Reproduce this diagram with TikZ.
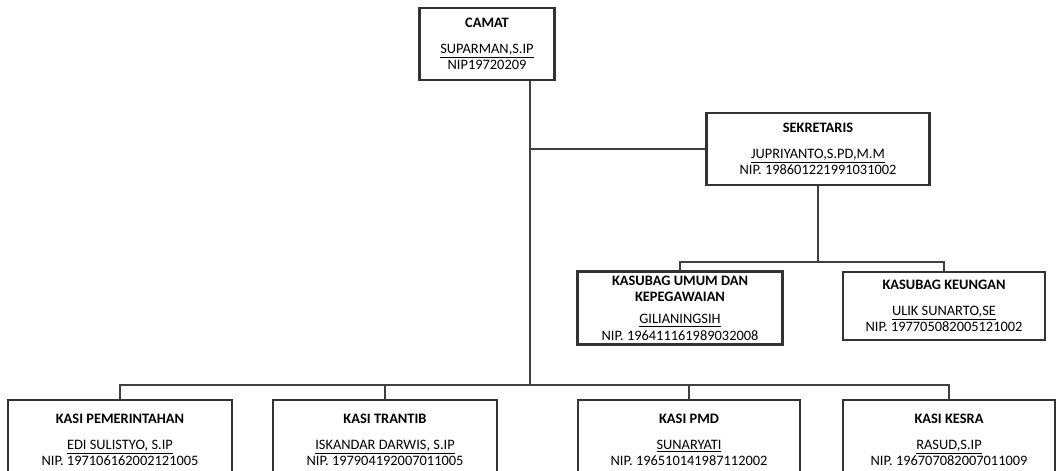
\documentclass[tikz,border=0pt]{standalone}
\usepackage{fontspec}
\setmainfont{Carlito}
\usepackage{tikz}
\usetikzlibrary{positioning}

\begin{document}
\begin{tikzpicture}[
  x=0.02cm, y=-0.02cm,
  font=\fontsize{8.2}{9.4}\selectfont,
  line width=0.8pt,
  box/.style={draw=black!80, line width=1.2pt, align=center,
              inner sep=2pt},
  conn/.style={draw=black!75, line width=0.8pt},
]
  % ── Frame of the page ──
  \useasboundingbox (0,0) rectangle (1060,470);
  \clip (0,0) rectangle (1060,470);
  % ── Top: camat and sekretaris ──
  \node[box, minimum width=2.7cm, minimum height=1.44cm] (camat) at (487,44)
    {\textbf{CAMAT}\\[5pt]\underline{SUPARMAN,S.IP}\\NIP19720209};
  \node[box, minimum width=4.46cm, minimum height=1.44cm] (sekretaris) at (818,149)
    {\textbf{SEKRETARIS}\\[5pt]\underline{JUPRIYANTO,S.PD,M.M}\\NIP.\ 198601221991031002};
  % ── Middle row: kasubag ──
  \node[box, minimum width=4.1cm, minimum height=1.46cm] (umum) at (680,308)
    {\textbf{KASUBAG UMUM DAN}\\\textbf{KEPEGAWAIAN}\\[3pt]\underline{GILIANINGSIH}\\NIP.\ 196411161989032008};
  \node[box, minimum width=4.04cm, minimum height=1.36cm] (keuangan) at (944,306)
    {\textbf{KASUBAG KEUNGAN}\\[5pt]\underline{ULIK SUNARTO,SE}\\NIP.\ 197705082005121002};
  % ── Bottom row: kasi (cut off by the page edge) ──
  \node[box, minimum width=4.48cm, minimum height=1.6cm] (kasi1) at (120,440)
    {\textbf{KASI PEMERINTAHAN}\\[5pt]\underline{EDI SULISTYO, S.IP}\\NIP.\ 197106162002121005};
  \node[box, minimum width=4.48cm, minimum height=1.6cm] (kasi2) at (385,440)
    {\textbf{KASI TRANTIB}\\[5pt]\underline{ISKANDAR DARWIS, S.IP}\\NIP.\ 197904192007011005};
  \node[box, minimum width=4.44cm, minimum height=1.6cm] (kasi3) at (689,440)
    {\textbf{KASI PMD}\\[5pt]\underline{SUNARYATI}\\NIP.\ 196510141987112002};
  \node[box, minimum width=4.24cm, minimum height=1.6cm] (kasi4) at (949,440)
    {\textbf{KASI KESRA}\\[5pt]\underline{RASUD,S.IP}\\NIP.\ 196707082007011009};
  % ── Connectors ──
  \coordinate (bus) at (530,385);
  \coordinate (sub) at (818,262);
  \draw[conn] (camat.south -| bus) -- (bus);
  \draw[conn] (sekretaris.west) -- (sekretaris.west -| bus);
  \draw[conn] (sekretaris.south) -- (sub);
  \draw[conn] (umum.north) |- (sub) -| (keuangan.north);
  \draw[conn] (kasi1.north) |- (bus) -| (kasi4.north);
  \draw[conn] (bus) -| (kasi2.north);
  \draw[conn] (bus) -| (kasi3.north);
\end{tikzpicture}
\end{document}
